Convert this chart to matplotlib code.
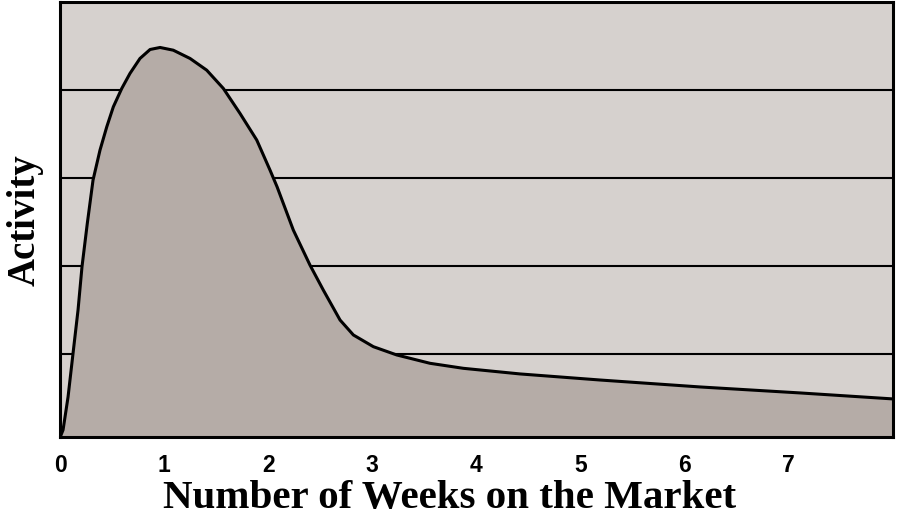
import matplotlib.pyplot as plt

# curve: weeks on market vs. activity (grid units)
weeks = [0.0, 0.029, 0.077, 0.125, 0.173, 0.211, 0.262, 0.317, 0.384, 0.449,
         0.512, 0.593, 0.672, 0.768, 0.865, 0.961, 1.088, 1.249, 1.409, 1.569,
         1.729, 1.890, 2.017, 2.085, 2.241, 2.401, 2.529, 2.690, 2.818, 3.010,
         3.234, 3.554, 3.874, 4.419, 5.187, 6.148, 7.109, 8.0]
activity = [0.0, 0.085, 0.46, 0.957, 1.449, 1.941, 2.434, 2.926, 3.267, 3.532,
            3.759, 3.968, 4.139, 4.309, 4.411, 4.434, 4.403, 4.309, 4.176, 3.968,
            3.684, 3.381, 3.040, 2.850, 2.358, 1.960, 1.676, 1.335, 1.165, 1.032,
            0.938, 0.843, 0.786, 0.722, 0.653, 0.574, 0.506, 0.438]
xticks = [0, 1, 2, 3, 4, 5, 6, 7]
gridlevels = [0.95, 1.95, 2.95, 3.95]

fig = plt.figure(figsize=(9, 5.22), dpi=100)
ax = fig.add_axes([0.0667, 0.162, 0.9253, 0.834])
ax.set_facecolor('#d6d1ce')

for g in gridlevels:
    ax.axhline(g, color='black', lw=1.5, zorder=1)

ax.fill_between(weeks, activity, 0, color='#b5aca7', zorder=2)
ax.plot(weeks, activity, color='black', lw=2.2, zorder=3,
        solid_joinstyle='round')

ax.set_xlim(0, 8.0)
ax.set_ylim(0, 4.95)
ax.set_xticks(xticks)
ax.set_yticks([])
ax.tick_params(axis='x', length=0, pad=12)
for lab in ax.get_xticklabels():
    lab.set_fontfamily('Liberation Sans')
    lab.set_fontweight('bold')
    lab.set_fontsize(16.5)

for s in ax.spines.values():
    s.set_linewidth(2.2)
    s.set_zorder(4)

# x label is centred on the figure, not on the axes
ax.set_xlabel('Number of Weeks on the Market', family='Liberation Serif',
              fontweight='bold', fontsize=29.5)
ax.xaxis.set_label_coords(0.468, -0.098)
ax.set_ylabel('Activity', family='Liberation Serif', fontweight='bold',
              fontsize=28, labelpad=12)

fig.savefig('out.png')
